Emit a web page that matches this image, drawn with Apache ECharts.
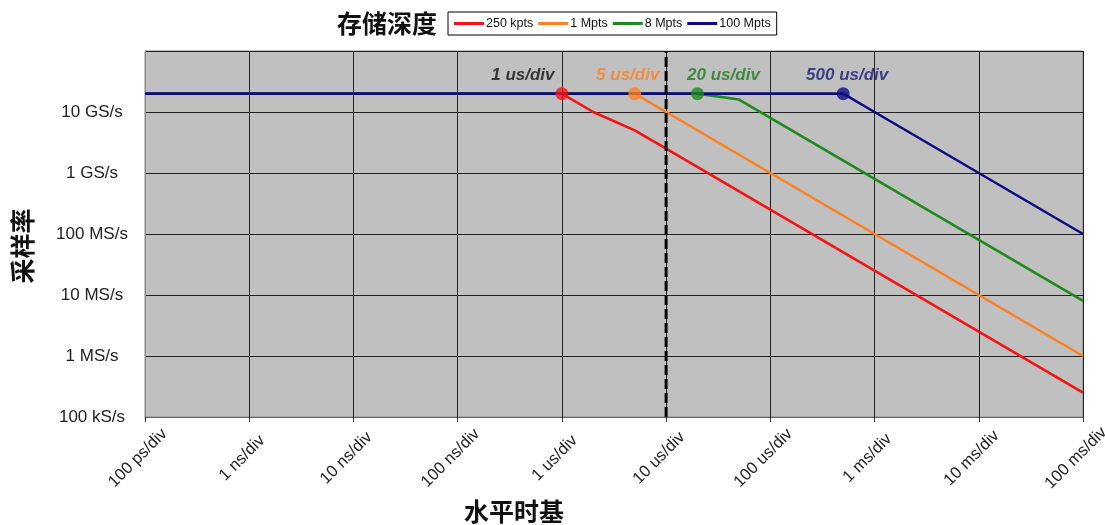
<!DOCTYPE html>
<html>
<head>
<meta charset="utf-8">
<script src="https://cdn.jsdelivr.net/npm/echarts@6/dist/echarts.min.js"></script>
<style>
  html, body { margin: 0; padding: 0; background: #fff; }
  #chart { width: 1105px; height: 525px; }
</style>
</head>
<body>
<div id="chart"></div>
<script>
// Timebase (s/div) on the x axis, sample rate (Sa/s) on the y axis.
const xTickLabels = ['100 ps/div', '1 ns/div', '10 ns/div', '100 ns/div', '1 us/div',
                     '10 us/div', '100 us/div', '1 ms/div', '10 ms/div', '100 ms/div'];
const yTickLabels = ['100 kS/s', '1 MS/s', '10 MS/s', '100 MS/s', '1 GS/s', '10 GS/s', ''];

const depthNames = ['250 kpts', '1 Mpts', '8 Mpts', '100 Mpts'];

// [timebase, sample rate] per memory depth
const rate250k = [[1e-10, 2e10], [1e-6, 2e10], [2e-6, 1e10], [5e-6, 5e9], [1e-5, 2.5e9],
                  [1e-4, 2.5e8], [1e-3, 2.5e7], [1e-2, 2.5e6], [1e-1, 2.5e5]];
const rate1M   = [[1e-10, 2e10], [5e-6, 2e10], [1e-5, 1e10], [1e-4, 1e9],
                  [1e-3, 1e8], [1e-2, 1e7], [1e-1, 1e6]];
const rate8M   = [[1e-10, 2e10], [2e-5, 2e10], [5e-5, 1.6e10], [1e-4, 8e9],
                  [1e-3, 8e8], [1e-2, 8e7], [1e-1, 8e6]];
const rate100M = [[1e-10, 2e10], [5e-4, 2e10], [1e-3, 1e10], [1e-2, 1e9], [1e-1, 1e8]];

// Knee points where each depth starts to lose the full 20 GS/s
const kneeTimebase = [1e-6, 5e-6, 2e-5, 5e-4];
const kneeRate = [2e10, 2e10, 2e10, 2e10];
const kneeLabels = ['1 us/div', '5 us/div', '20 us/div', '500 us/div'];

// 10 us/div reference line
const refTimebase = 1e-5;
const yRange = [1e5, 1e11];

const lineColors = ['#F41414', '#FF8021', '#1E8A1E', '#0C0C82'];
const kneeLabelColors = ['#111111', '#FF8021', '#1E7A1E', '#1A1A78'];
const kneeLabelShift = [-39, -7, 26, 4];

const allRates = [rate250k, rate1M, rate8M, rate100M];

const chart = echarts.init(document.getElementById('chart'));

const lineSeries = allRates.map((d, i) => ({
  name: depthNames[i],
  type: 'line',
  data: d,
  symbol: 'none',
  z: 2 + i,
  lineStyle: { color: lineColors[i], width: 2.6 },
  itemStyle: { color: lineColors[i] },
  animation: false
}));

const cjkTitle = { fontFamily: 'Noto Sans CJK SC', fontSize: 25, fontWeight: 'bold', color: '#111' };

const option = {
  animation: false,
  backgroundColor: '#ffffff',
  textStyle: { fontFamily: 'Liberation Sans, Arial, sans-serif' },
  title: [
    { text: '存储深度', left: 332, top: 6, textStyle: cjkTitle },
    { text: '水平时基', left: 459, top: 494, textStyle: cjkTitle }
  ],
  graphic: [{
    type: 'text', x: 22, y: 246, rotation: Math.PI / 2,
    style: { text: '采样率', fontFamily: 'Noto Sans CJK SC', fontSize: 25, fontWeight: 'bold',
             fill: '#111', align: 'center', verticalAlign: 'middle' }
  }],
  legend: {
    data: depthNames.map((n, i) => ({ name: n, icon: 'rect', itemStyle: { color: lineColors[i] } })),
    left: 448, top: 12,
    padding: [5, 6],
    itemGap: 5,
    itemWidth: 30,
    itemHeight: 3,
    borderColor: '#000', borderWidth: 1,
    textStyle: { fontSize: 12.5, color: '#111', padding: [0, 0, 0, -3] }
  },
  grid: { left: 145, right: 22, top: 51, bottom: 108, show: true,
          outerBoundsMode: 'none', containLabel: false,
          backgroundColor: '#C0C0C0', borderColor: '#8a8a8a', borderWidth: 1 },
  xAxis: {
    type: 'log', logBase: 10, min: 1e-10, max: 1e-1,
    axisLine: { lineStyle: { color: '#666', width: 1 } },
    axisTick: { show: true, length: 5, lineStyle: { color: '#333' } },
    splitLine: { show: true, lineStyle: { color: '#222', width: 1 } },
    axisLabel: {
      rotate: 45, fontSize: 16.5, color: '#222', margin: 34,
      align: 'center', verticalAlign: 'middle', padding: [0, 20, 0, 0],
      formatter: v => xTickLabels[Math.round(Math.log10(v)) + 10] || ''
    }
  },
  yAxis: {
    type: 'log', logBase: 10, min: yRange[0], max: yRange[1],
    axisLine: { show: true, lineStyle: { color: '#8a8a8a' } },
    axisTick: { show: false },
    splitLine: { show: true, lineStyle: { color: '#222', width: 1 } },
    axisLabel: {
      fontSize: 17, color: '#222', margin: 53, align: 'center',
      padding: [4, 0, 0, 0],
      formatter: v => yTickLabels[Math.round(Math.log10(v)) - 5] || ''
    }
  },
  series: [
    ...lineSeries,
    {
      name: 'ref',
      type: 'line',
      data: [[refTimebase, yRange[0]], [refTimebase, yRange[1]]],
      symbol: 'none',
      z: 8,
      lineStyle: { color: '#000', width: 3, type: [10, 4] }
    },
    {
      name: 'knee',
      type: 'scatter',
      z: 10,
      symbol: 'circle',
      symbolSize: 13,
      data: kneeTimebase.map((t, i) => ({
        value: [t, kneeRate[i]],
        itemStyle: { color: lineColors[i] },
        label: {
          show: true, position: 'top', distance: 3,
          offset: [kneeLabelShift[i], 0],
          formatter: kneeLabels[i],
          color: kneeLabelColors[i],
          fontSize: 17, fontWeight: 'bold', fontStyle: 'italic'
        }
      }))
    }
  ]
};

chart.setOption(option);
</script>
</body>
</html>
